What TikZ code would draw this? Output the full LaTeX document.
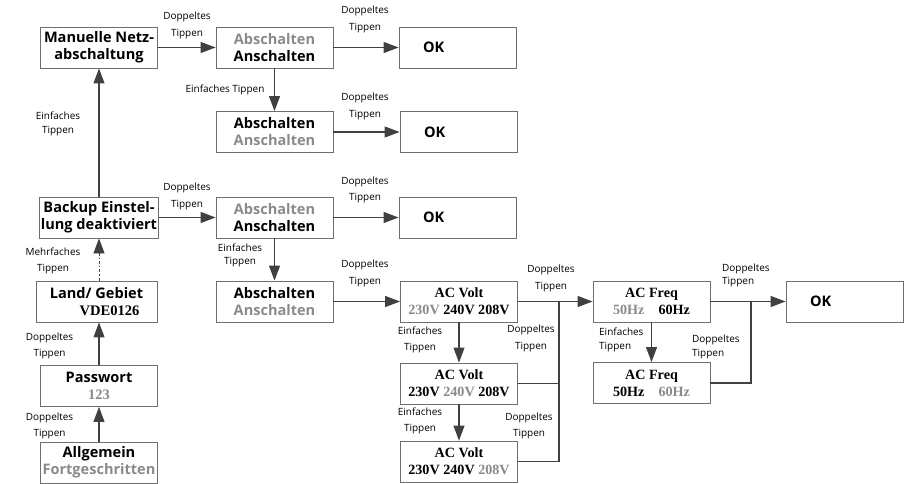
\documentclass[tikz,border=0pt]{standalone}
\usepackage{fontspec}
\setmainfont{Liberation Serif}
\setsansfont{Open Sans}
\usetikzlibrary{arrows.meta,calc}
\definecolor{linegray}{HTML}{404040}
\definecolor{framegray}{HTML}{6E6E6E}
\definecolor{offgray}{HTML}{8A8A8A}
\newcommand{\offtxt}[1]{\textcolor{offgray}{#1}}

\begin{document}
\begin{tikzpicture}[x=1bp, y=-1bp, >={Triangle[length=15bp,width=11bp]},
    box/.style={draw=framegray, line width=0.9bp, minimum width=117bp, minimum height=41bp,
        inner sep=1bp, align=center, font=\sffamily\bfseries\fontsize{14.6}{17}\selectfont},
    numbox/.style={box, font=\rmfamily\bfseries\fontsize{14.2}{17}\selectfont},
    okbox/.style={box, align=left, text width=69bp, inner xsep=24bp},
    conn/.style={draw=linegray, line width=1.1bp},
    arr/.style={conn, ->},
    lbl/.style={font=\sffamily\fontsize{10}{16.5}\selectfont, align=center, inner sep=0pt},
    lblt/.style={lbl, font=\sffamily\fontsize{10}{13.5}\selectfont},
    lbll/.style={lblt, align=left, anchor=west}]
    \useasboundingbox (0,0) rectangle (915,484);

    % left column
    \node[box] (man) at (99, 47.5) {Manuelle Netz-\\abschaltung};
    \node[box] (bak) at (99, 217.5) {Backup Einstel-\\lung deaktiviert};
    \node[box, minimum width=121bp] (land) at (96.5, 301.5) {Land/ Gebiet\\\hspace*{26bp}\rmfamily VDE0126};
    \node[box] (pw) at (99, 386) {Passwort\\\rmfamily\offtxt{123}};
    \node[box] (allg) at (99, 462.5) {Allgemein\\\offtxt{Fortgeschritten}};

    % switch boxes
    \node[box] (ab1) at (274.5, 47.5) {\offtxt{Abschalten}\\Anschalten};
    \node[box] (ab2) at (274.5, 132) {Abschalten\\\offtxt{Anschalten}};
    \node[box] (ab3) at (274.5, 217.5) {\offtxt{Abschalten}\\Anschalten};
    \node[box] (ab4) at (274.5, 301.5) {Abschalten\\\offtxt{Anschalten}};

    \node[okbox] (ok1) at (457.5, 47.5) {OK};
    \node[okbox] (ok2) at (458.5, 132) {OK};
    \node[okbox] (ok3) at (457.5, 217.5) {OK};

    % voltage and frequency
    \node[numbox] (v1) at (459, 301.5) {AC Volt\\\offtxt{230V} 240V 208V};
    \node[numbox] (v2) at (459, 383.5) {AC Volt\\230V \offtxt{240V} 208V};
    \node[numbox] (v3) at (459, 461.5) {AC Volt\\230V 240V \offtxt{208V}};
    \node[numbox] (f1) at (651.5, 301.5) {AC Freq\\\offtxt{50Hz}\quad 60Hz};
    \node[numbox] (f2) at (651.5, 383) {AC Freq\\50Hz\quad \offtxt{60Hz}};
    \node[okbox] (okf) at (844.5, 301.5) {OK};

    \coordinate (jv) at (559, 301.5);
    \coordinate (jf) at (751, 301.5);

    % connectors
    \draw[arr] (bak) -- (man);
    \draw[arr, dash dot, line width=0.8bp] (land.north -| bak) -- (bak);
    \draw[arr] (pw) -- (land.south -| pw);
    \draw[arr] (allg) -- (pw);

    \draw[arr] (man) -- (ab1);
    \draw[arr] (ab1) -- (ok1);
    \draw[arr] (ab1) -- (ab2);
    \draw[arr] (ab2) -- (ok2);
    \draw[arr] (bak) -- (ab3);
    \draw[arr] (ab3) -- (ok3);
    \draw[arr] (ab3) -- (ab4);
    \draw[arr] (ab4) -- (v1);

    \draw[arr] (v1) -- (v2);
    \draw[arr] (v2) -- (v3);
    \draw[arr] (v1) -- (f1);
    \draw[conn] (v3.east) -| (jv);
    \draw[conn] (v2.east) -- (v2.east -| jv);
    \draw[arr] (f1) -- (f2);
    \draw[arr] (f1) -- (okf);
    \draw[conn] (f2.east) -| (jf);

    % labels
    \node[lbl] (l1) at (187, 25.5) {Doppeltes\\Tippen};
    \node[lbl] (l2) at (365, 19.5) {Doppeltes\\Tippen};
    \node[lbl] (l3) at (225, 90) {Einfaches Tippen};
    \node[lbl] (l4) at (365, 106.5) {Doppeltes\\Tippen};
    \node[lblt] (l5) at (58, 124) {Einfaches\\Tippen};
    \node[lbl] (l6) at (187, 196.5) {Doppeltes\\Tippen};
    \node[lbl] (l7) at (365, 190) {Doppeltes\\Tippen};
    \node[lblt] (l8) at (240, 255.5) {Einfaches\\Tippen};
    \node[lbl] (l9) at (365, 273.5) {Doppeltes\\Tippen};
    \node[lbl] (l10) at (53, 261) {Mehrfaches\\Tippen};
    \node[lbl] (l11) at (49.5, 346) {Doppeltes\\Tippen};
    \node[lbl] (l12) at (49.5, 426) {Doppeltes\\Tippen};
    \node[lbl] (l13) at (420, 340) {Einfaches\\Tippen};
    \node[lbl] (l14) at (420, 421) {Einfaches\\Tippen};
    \node[lbl] (l15) at (551, 278.5) {Doppeltes\\Tippen};
    \node[lbl] (l16) at (531, 338.5) {Doppeltes\\Tippen};
    \node[lbl] (l17) at (529, 426) {Doppeltes\\Tippen};
    \node[lbll] (l18) at (599, 340) {Einfaches\\Tippen};
    \node[lbll] (l19) at (722, 275.5) {Doppeltes\\Tippen};
    \node[lbll] (l20) at (692, 347) {Doppeltes\\Tippen};
\end{tikzpicture}
\end{document}
